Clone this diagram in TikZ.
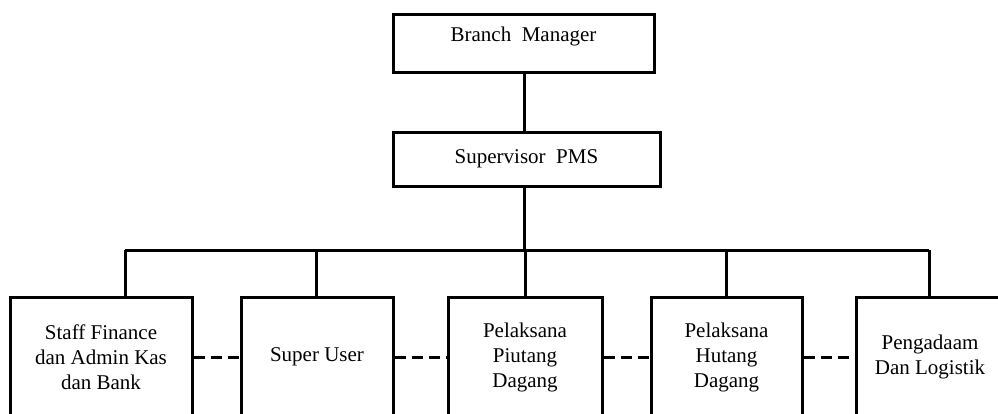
\documentclass[tikz,border=0pt]{standalone}
\usepackage{fontspec}
\setmainfont{Liberation Serif}
\begin{document}
\begin{tikzpicture}[x=1pt,y=-1pt,
  every node/.style={font=\fontsize{21}{25}\selectfont},
  box/.style={draw=black,line width=3pt,inner sep=0pt,align=center},
  botbox/.style={box,minimum height=120pt,anchor=center},
  conn/.style={draw=black,line width=3pt},
  dashconn/.style={conn,dash pattern=on 11pt off 6pt}]
\useasboundingbox (0,0) rectangle (998,414);
\clip (0,0) rectangle (998,414);
\node[box,minimum width=261pt,text height=27pt,text depth=31pt,anchor=north] (bm) at (523.5,13) {Branch\ \ Manager};
\node[box,minimum width=267pt,text height=31pt,text depth=23pt,anchor=north] (sp) at (526.5,131) {Supervisor\ \ PMS};
\node[botbox,minimum width=182pt] (b1) at (101,357) {Staff Finance\\dan Admin Kas\\dan Bank};
\node[botbox,minimum width=152pt] (b2) at (317,357) {Super User};
\node[botbox,minimum width=154pt] (b3) at (525,357) {Pelaksana\\Piutang\\Dagang};
\node[botbox,minimum width=151pt] (b4) at (726.5,357) {Pelaksana\\Hutang\\Dagang};
\node[botbox,minimum width=148pt] (b5) at (930,357) {Pengadaam\\Dan Logistik};
\coordinate (bus) at (524,250);
\coordinate (d1) at (125,250);
\coordinate (d2) at (316,250);
\coordinate (d3) at (525,250);
\coordinate (d4) at (726,250);
\coordinate (d5) at (929,250);
\draw[conn] (bm.south -| bus) -- (sp.north -| bus);
\draw[conn] (sp.south -| bus) -- (bus);
\draw[conn] (d1) -- (d5);
\draw[conn] (d1) -- (d1 |- b1.north);
\draw[conn] (d2) -- (d2 |- b2.north);
\draw[conn] (d3) -- (d3 |- b3.north);
\draw[conn] (d4) -- (d4 |- b4.north);
\draw[conn] (d5) -- (d5 |- b5.north);
\draw[dashconn] (b1.east) -- (b2.west);
\draw[dashconn] (b2.east) -- (b3.west);
\draw[dashconn] (b3.east) -- (b4.west);
\draw[dashconn] (b4.east) -- (b5.west);
\end{tikzpicture}
\end{document}
